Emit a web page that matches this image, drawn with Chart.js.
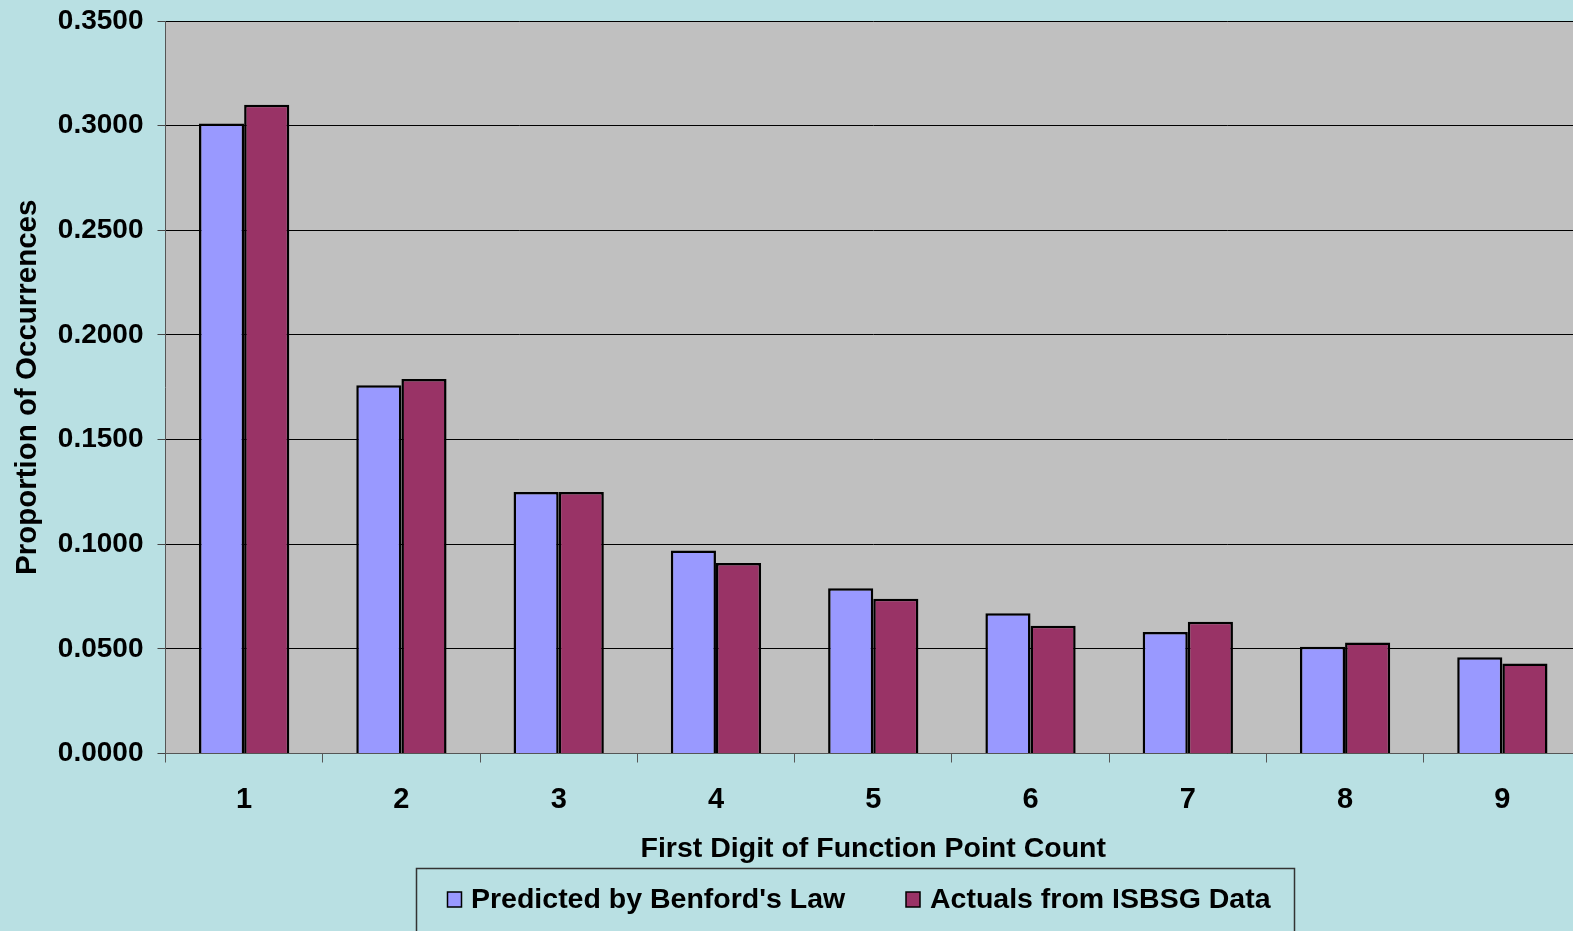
<!DOCTYPE html>
<html>
<head>
<meta charset="utf-8">
<script src="https://cdn.jsdelivr.net/npm/chart.js@4/dist/chart.umd.min.js"></script>
<style>
  html, body { margin: 0; padding: 0; overflow: hidden; background: #b9e0e3; }
  #wrap { position: relative; width: 1581px; height: 931px; }
</style>
</head>
<body>
<div id="wrap"><canvas id="c"></canvas></div>
<script>
const categories = ['1', '2', '3', '4', '5', '6', '7', '8', '9'];
const benford = [0.301, 0.176, 0.125, 0.097, 0.079, 0.067, 0.058, 0.051, 0.046];
const isbsg   = [0.310, 0.179, 0.125, 0.091, 0.074, 0.061, 0.063, 0.053, 0.043];
const seriesNames = ["Predicted by Benford's Law", 'Actuals from ISBSG Data'];
const seriesColors = ['#9999ff', '#993366'];
const xTitle = 'First Digit of Function Point Count';
const yTitle = 'Proportion of Occurrences';

const FONT = '"Liberation Sans", Arial, sans-serif';

const bgPlugin = {
  id: 'bg',
  beforeDraw(chart) {
    const ctx = chart.ctx, a = chart.chartArea;
    ctx.save();
    ctx.fillStyle = '#b9e0e3';
    ctx.fillRect(0, 0, chart.width, chart.height);
    ctx.fillStyle = '#c0c0c0';
    ctx.fillRect(a.left, a.top, a.right - a.left, a.bottom - a.top);
    ctx.restore();
  }
};

const legendPlugin = {
  id: 'boxLegend',
  afterDraw(chart) {
    const ctx = chart.ctx;
    ctx.save();
    ctx.strokeStyle = '#333';
    ctx.lineWidth = 1.5;
    ctx.strokeRect(416.5, 868.5, 878, 80);
    const items = [{x: 447.5, tx: 471}, {x: 906, tx: 930}];
    ctx.font = 'bold 28.5px ' + FONT;
    ctx.textBaseline = 'middle';
    ctx.textAlign = 'left';
    items.forEach((it, i) => {
      ctx.fillStyle = seriesColors[i];
      ctx.fillRect(it.x, 892, 14, 15);
      ctx.strokeStyle = '#000';
      ctx.lineWidth = 1.5;
      ctx.strokeRect(it.x, 892, 14, 15);
      ctx.fillStyle = '#000';
      ctx.fillText(seriesNames[i], it.tx, 900);
    });
    ctx.restore();
  }
};

new Chart(document.getElementById('c'), {
  type: 'bar',
  data: {
    labels: categories,
    datasets: [
      { label: seriesNames[0], data: benford, backgroundColor: seriesColors[0], borderColor: '#000', borderWidth: 2.5 },
      { label: seriesNames[1], data: isbsg, backgroundColor: seriesColors[1], borderColor: '#000', borderWidth: 2.5 }
    ]
  },
  options: {
    responsive: true,
    maintainAspectRatio: false,
    animation: false,
    layout: { padding: { top: 21, bottom: 0, left: 0, right: 0 } },
    datasets: { bar: { categoryPercentage: 0.574, barPercentage: 1.0 } },
    plugins: { legend: { display: false }, tooltip: { enabled: false } },
    scales: {
      x: {
        afterFit(s) { s.height = 177.5; s.paddingLeft = 0; s.paddingRight = 0; },
        grid: { offset: true, drawOnChartArea: false, tickLength: 9, color: '#555', lineWidth: 1 },
        border: { color: '#555', width: 1 },
        ticks: { color: '#000', padding: 20, font: { family: FONT, size: 29, weight: 'bold' } },
        title: { display: true, text: xTitle, color: '#000', padding: { top: 0, bottom: 65 },
                 font: { family: FONT, size: 28.5, weight: 'bold' } }
      },
      y: {
        min: 0, max: 0.35,
        afterFit(s) { s.width = 165.5; s.paddingTop = 0; s.paddingBottom = 0; },
        grid: { color: '#000', lineWidth: 1, tickLength: 8, tickColor: '#444' },
        border: { color: '#555', width: 1 },
        ticks: { stepSize: 0.05, color: '#000', padding: 14,
                 font: { family: FONT, size: 28, weight: 'bold' },
                 callback: v => Number(v).toFixed(4) },
        title: { display: true, text: yTitle, color: '#000', padding: { top: 10, bottom: 0 },
                 font: { family: FONT, size: 29.5, weight: 'bold' } }
      }
    }
  },
  plugins: [bgPlugin, legendPlugin]
});
</script>
</body>
</html>
